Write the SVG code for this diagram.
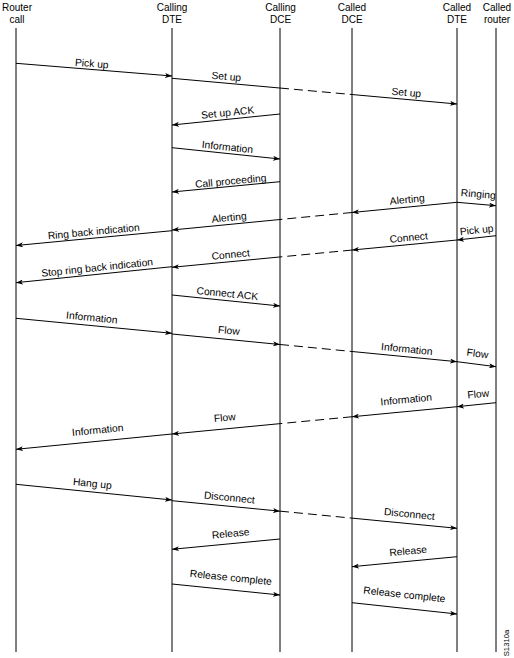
<svg xmlns="http://www.w3.org/2000/svg" width="514" height="658" viewBox="0 0 514 658">
<style>
text{font-family:"Liberation Sans",Arial,sans-serif;font-size:10px;fill:#000}
.h{text-anchor:middle}
.l{text-anchor:middle;font-size:10.3px}
.life{stroke:#000;stroke-width:1;fill:none}
.m{stroke:#000;stroke-width:1;fill:none}
.d{stroke:#000;stroke-width:1;fill:none;stroke-dasharray:9 5}
.a{marker-end:url(#ah)}
</style>
<defs>
<marker id="ah" viewBox="0 0 7 5" refX="7" refY="2.5" markerWidth="7" markerHeight="5" markerUnits="userSpaceOnUse" orient="auto"><path d="M0,0 L7,2.5 L0,5 L1.8,2.5 z" fill="#000"/></marker>
</defs>
<rect width="514" height="658" fill="#fff"/>
<g id="router-call"><text class="h" x="17" y="10.7">Router</text><text class="h" x="17" y="22.5">call</text><line class="life" x1="16" y1="28" x2="16" y2="652"/></g>
<g id="calling-dte"><text class="h" x="172" y="10.7">Calling</text><text class="h" x="172" y="22.5">DTE</text><line class="life" x1="172" y1="28" x2="172" y2="652"/></g>
<g id="calling-dce"><text class="h" x="280.5" y="10.7">Calling</text><text class="h" x="280.5" y="22.5">DCE</text><line class="life" x1="280" y1="28" x2="280" y2="652"/></g>
<g id="called-dce"><text class="h" x="352" y="10.7">Called</text><text class="h" x="352" y="22.5">DCE</text><line class="life" x1="352" y1="28" x2="352" y2="652"/></g>
<g id="called-dte"><text class="h" x="457" y="10.7">Called</text><text class="h" x="457" y="22.5">DTE</text><line class="life" x1="457" y1="28" x2="457" y2="652"/></g>
<g id="called-router"><text class="h" x="497" y="10.7">Called</text><text class="h" x="497" y="22.5">router</text><line class="life" x1="496" y1="28" x2="496" y2="652"/></g>
<g id="connectors">
<line class="m a" x1="16" y1="63.3" x2="172" y2="76"/>
<text class="l" x="91.5" y="67" transform="rotate(4.65 91.5 67)">Pick up</text>
<line class="m" x1="172" y1="78.3" x2="280" y2="88.04"/>
<line class="d" x1="280" y1="88.04" x2="352" y2="94.53"/>
<line class="m a" x1="352" y1="94.53" x2="457" y2="104"/>
<text class="l" x="226" y="80" transform="rotate(5.15 226 80)">Set up</text>
<text class="l" x="406" y="96" transform="rotate(5.15 406 96)">Set up</text>
<line class="m a" x1="280" y1="114" x2="172" y2="125"/>
<text class="l" x="228" y="116" transform="rotate(-5.8 228 116)">Set up ACK</text>
<line class="m a" x1="172" y1="147.7" x2="280" y2="159"/>
<text class="l" x="227" y="150.5" transform="rotate(6 227 150.5)">Information</text>
<line class="m a" x1="280" y1="181.7" x2="172" y2="192"/>
<text class="l" x="231" y="184.5" transform="rotate(-5.4 231 184.5)">Call proceeding</text>
<line class="m a" x1="457" y1="202.3" x2="352" y2="212.5"/>
<line class="d" x1="352" y1="212.5" x2="280" y2="219.5"/>
<line class="m a" x1="280" y1="219.5" x2="172" y2="230"/>
<text class="l" x="407.5" y="203" transform="rotate(-5.55 407.5 203)">Alerting</text>
<text class="l" x="229.5" y="221" transform="rotate(-5.55 229.5 221)">Alerting</text>
<line class="m a" x1="457" y1="202.3" x2="496" y2="205.7"/>
<text class="l" x="478" y="197.5" transform="rotate(5 478 197.5)">Ringing</text>
<line class="m a" x1="172" y1="230.7" x2="16" y2="245.5"/>
<text class="l" x="94" y="235" transform="rotate(-5.4 94 235)">Ring back indication</text>
<line class="m a" x1="496" y1="235.7" x2="457" y2="240"/>
<text class="l" x="477" y="233.5" transform="rotate(-6.3 477 233.5)">Pick up</text>
<line class="m a" x1="457" y1="240" x2="352" y2="250.06"/>
<line class="d" x1="352" y1="250.06" x2="280" y2="256.95"/>
<line class="m a" x1="280" y1="256.95" x2="172" y2="267.3"/>
<text class="l" x="409" y="241" transform="rotate(-5.5 409 241)">Connect</text>
<text class="l" x="231" y="258" transform="rotate(-5.5 231 258)">Connect</text>
<line class="m a" x1="172" y1="266.7" x2="16" y2="282.7"/>
<text class="l" x="97.5" y="271" transform="rotate(-5.9 97.5 271)">Stop ring back indication</text>
<line class="m a" x1="172" y1="295" x2="280" y2="306"/>
<text class="l" x="227" y="297" transform="rotate(5.8 227 297)">Connect ACK</text>
<line class="m a" x1="16" y1="318.3" x2="172" y2="333.3"/>
<text class="l" x="91.5" y="321" transform="rotate(5.5 91.5 321)">Information</text>
<line class="m a" x1="172" y1="334" x2="280" y2="344.5"/>
<line class="d" x1="280" y1="344.5" x2="352" y2="351.5"/>
<line class="m a" x1="352" y1="351.5" x2="457" y2="361.7"/>
<text class="l" x="228.5" y="334" transform="rotate(5.55 228.5 334)">Flow</text>
<text class="l" x="406.5" y="352.5" transform="rotate(5.55 406.5 352.5)">Information</text>
<line class="m a" x1="457" y1="361.7" x2="496" y2="366.7"/>
<text class="l" x="477" y="357" transform="rotate(7.3 477 357)">Flow</text>
<line class="m a" x1="496" y1="402.7" x2="457" y2="406.7"/>
<text class="l" x="478.5" y="397.5" transform="rotate(-5.9 478.5 397.5)">Flow</text>
<line class="m a" x1="457" y1="406.7" x2="352" y2="416.76"/>
<line class="d" x1="352" y1="416.76" x2="280" y2="423.65"/>
<line class="m a" x1="280" y1="423.65" x2="172" y2="434"/>
<text class="l" x="406.5" y="403" transform="rotate(-5.5 406.5 403)">Information</text>
<text class="l" x="225" y="421" transform="rotate(-5.5 225 421)">Flow</text>
<line class="m a" x1="172" y1="434" x2="16" y2="449.3"/>
<text class="l" x="98" y="433.5" transform="rotate(-5.6 98 433.5)">Information</text>
<line class="m a" x1="16" y1="484.3" x2="172" y2="500"/>
<text class="l" x="92" y="487" transform="rotate(5.75 92 487)">Hang up</text>
<line class="m a" x1="172" y1="500.7" x2="280" y2="511.16"/>
<line class="d" x1="280" y1="511.16" x2="352" y2="518.13"/>
<line class="m a" x1="352" y1="518.13" x2="457" y2="528.3"/>
<text class="l" x="229" y="501" transform="rotate(5.55 229 501)">Disconnect</text>
<text class="l" x="409" y="517.5" transform="rotate(5.55 409 517.5)">Disconnect</text>
<line class="m a" x1="457" y1="556.7" x2="352" y2="566.7"/>
<text class="l" x="408.5" y="554.5" transform="rotate(-5.45 408.5 554.5)">Release</text>
<line class="m a" x1="280" y1="539" x2="172" y2="549.3"/>
<text class="l" x="231" y="537" transform="rotate(-5.45 231 537)">Release</text>
<line class="m a" x1="172" y1="584" x2="280" y2="595"/>
<text class="l" x="230.5" y="581" transform="rotate(5.8 230.5 581)">Release complete</text>
<line class="m a" x1="352" y1="602.7" x2="457" y2="614"/>
<text class="l" x="404" y="598" transform="rotate(6.1 404 598)">Release complete</text>
</g>
<text x="508.5" y="643" text-anchor="middle" style="font-size:7.7px" transform="rotate(-90 508.5 643)">S1310a</text>
</svg>
